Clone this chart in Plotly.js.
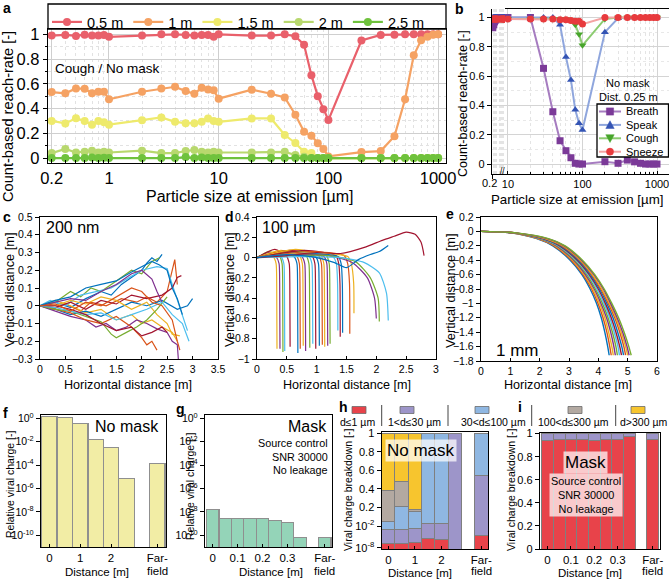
<!DOCTYPE html>
<html><head><meta charset="utf-8">
<script src="https://cdn.plot.ly/plotly-3.0.1.min.js"></script>
<style>html,body{margin:0;padding:0;background:#fff;}#chart{width:669px;height:582px;}</style>
</head><body><div id="chart"></div>
<script>
// ---------------- DATA ----------------
// panel a / b: particle sizes (µm)
const sizes=[0.3,0.4,0.5,0.6,0.7,0.8,0.9,1,2,3,4,5,6,7,8,9,10,20,30,40,50,60,70,80,90,100,200,300,400,500,600,700,800,900,1000];
const reach05=[0.99,0.995,0.987,0.997,0.99,0.99,0.995,0.98, 0.99,1.0,1.0,0.995,0.99,0.995,0.995,0.98,1.0, 0.99,0.99,1.0,0.985,0.915,0.67,0.5,0.395,0.307, 0.95,0.995,0.997,1.0,1.0,1.0,1.0,1.0,1.0];
const reach1=[0.533,0.523,0.563,0.56,0.523,0.536,0.536,0.475, 0.536,0.563,0.576,0.541,0.52,0.568,0.555,0.547,0.48, 0.552,0.52,0.49,0.35,0.213,0.18,0.12,0.074,0.013, 0.048,0.056,0.176,0.475,0.83,0.952,0.98,0.997,1.0];
const reach15=[0.30,0.28,0.322,0.30,0.27,0.30,0.29,0.27, 0.306,0.328,0.293,0.282,0.282,0.293,0.32,0.30,0.293, 0.32,0.32,0.186,0.122,0.05,0.04,0,0,0, 0,0,0,0,0,0,0,0,0];
const reach2=[0.04,0.073,0.045,0.05,0.06,0.045,0.05,0.045, 0.06,0.04,0.04,0.057,0.065,0.05,0.045,0.05,0.045, 0.045,0.045,0.05,0.025,0.01,0,0,0,0, 0,0,0,0,0,0,0,0,0];
const reach25=[0,0,0,0,0.005,0,0.003,0, 0,0,0,0.008,0,0.005,0,0,0, 0,0,0,0,0,0,0,0,0, 0,0,0,0,0,0,0,0,0];
const distLabels=['0.5 m','1 m','1.5 m','2 m','2.5 m'];
// panel b (distance 0.25 m)
const breath=[0.93,0.95,0.97,0.98,0.99,0.99,1,1, 1,1,1,1,1,1,1,1,1, 1,0.653,0.357,0.159,0.091,0.043,0.005,0,0, 0.016,0.005,0.027,0.015,0.005,0,0,0,0];
const speak=[1,1,1,1,1,1,1,1, 1,1,1,1,1,1,1,1,1, 1,1,1,0.95,0.73,0.573,0.37,0.278,0.232, 0.9,0.995,1,1,1,1,1,1,1];
const cough=[0.99,0.99,0.99,0.99,0.99,0.99,0.99,0.99, 0.99,0.99,0.99,0.99,0.99,0.99,0.99,0.99,0.99, 0.99,0.99,0.99,0.99,0.99,0.983,0.95,0.885,0.81, 0.99,1,1,1,1,1,1,1,1];
const sneeze=[0.99,0.99,0.99,0.99,0.99,0.99,0.99,0.99, 0.99,0.99,0.99,0.99,0.99,0.99,0.99,0.99,0.99, 0.99,0.99,0.99,0.985,0.985,0.98,0.975,0.975,0.955, 1,1,1,1,1,1,1,1,1];
const activityLabels=['Breath','Speak','Cough','Sneeze'];
// panel c: 200 nm trajectories (horizontal, vertical in m)
const cTrajX=[
 [0,0.3,0.6,0.9,1.2,1.4,1.6,1.8,2.0,2.1,2.2,2.3,2.4],
 [0,0.25,0.5,0.8,1.0,1.3,1.6,1.9,2.1,2.3,2.5,2.6,2.65,2.7],
 [0,0.3,0.6,0.9,1.2,1.5,1.8,2.0,2.2,2.4,2.6,2.7],
 [0,0.3,0.6,0.9,1.1,1.3,1.5,1.7,1.9,2.1,2.3,2.5,2.6,2.7,2.72],
 [0,0.3,0.6,0.8,1.0,1.2,1.5,1.8,2.0,2.2,2.35],
 [0,0.2,0.5,0.8,1.1,1.4,1.7,2.0,2.3,2.5,2.6,2.8,2.9],
 [0,0.3,0.6,0.9,1.2,1.5,1.8,2.1,2.4,2.6,2.7,2.78],
 [0,0.3,0.6,0.9,1.2,1.5,1.8,2.1,2.4,2.7,2.9,3.0],
 [0,0.3,0.6,0.9,1.2,1.5,1.8,2.0,2.1,2.2,2.3],
 [0,0.3,0.6,0.9,1.2,1.5,1.8,2.1,2.3,2.5,2.6,2.75],
 [0,0.3,0.6,0.9,1.2,1.5,1.8,2.0,2.2,2.3,2.4],
 [0,0.3,0.6,0.9,1.2,1.4,1.5,1.7,1.9,2.1,2.3,2.5],
 [0,0.3,0.6,0.9,1.2,1.5,1.8,2.1,2.4,2.6,2.8,2.93],
 [0,0.3,0.6,0.9,1.2,1.5,1.8,2.0,2.2,2.4,2.5],
 [0,0.3,0.6,0.9,1.2,1.5,1.8,2.0,2.2,2.35,2.5,2.6,2.7,2.8],
 [0,0.3,0.6,0.9,1.2,1.5,1.8,2.0,2.2,2.4,2.6,2.7,2.75]];
const cTrajY=[
 [0,0.02,-0.01,0.04,0.08,0.06,0.12,0.16,0.2,0.24,0.27,0.25,0.29],
 [0,-0.02,0.01,-0.03,0.02,0,0.04,0.02,0.05,0.02,0.08,0.2,0.26,0.12],
 [0,0.03,0,-0.04,-0.02,-0.08,-0.05,-0.1,-0.08,-0.12,-0.15,-0.2],
 [0,-0.03,-0.06,-0.08,-0.12,-0.1,-0.14,-0.12,-0.08,-0.1,-0.13,-0.15,-0.2,-0.22,-0.3],
 [0,0.02,0.08,0.05,0.1,0.08,0.14,0.2,0.18,0.25,0.27],
 [0,0.03,0,0.06,0.08,0.1,0.15,0.2,0.22,0.21,0.12,-0.05,-0.14],
 [0,-0.01,0.02,-0.02,0.03,0.01,0.06,0.04,0.06,0.1,0.16,0.17],
 [0,-0.02,-0.05,-0.03,-0.06,-0.02,0.02,0,0.03,-0.02,0,0.04],
 [0,-0.02,-0.04,-0.08,-0.1,-0.06,-0.12,-0.18,-0.22,-0.2,-0.25],
 [0,0,0.03,0.01,0.05,0.03,-0.02,0.02,-0.05,-0.1,-0.16,-0.17],
 [0,0.02,0.04,0.03,0.08,0.12,0.18,0.2,0.15,0.08,0.02],
 [0,-0.02,-0.03,-0.06,-0.09,-0.16,-0.18,-0.15,-0.12,-0.08,-0.02,0.05],
 [0,-0.01,-0.03,-0.05,-0.04,-0.08,-0.05,-0.02,0.02,-0.05,-0.1,-0.2],
 [0,0,-0.02,-0.05,-0.1,-0.14,-0.12,-0.17,-0.15,-0.12,-0.15],
 [0,0.03,0.05,0.1,0.12,0.14,0.19,0.22,0.25,0.23,0.2,0.1,0.04,-0.05],
 [0,0.01,-0.03,0.02,0,0.05,0.1,0.08,0.02,0,-0.08,-0.2,-0.25]];
// panel d: 100 µm trajectories
const dTrajX=[
 [0,0.15,0.27,0.32,0.33,0.335],
 [0,0.2,0.32,0.37,0.38,0.385],
 [0,0.2,0.37,0.42,0.43,0.435],
 [0,0.25,0.4,0.45,0.46,0.465],
 [0,0.3,0.49,0.54,0.55,0.555],
 [0,0.35,0.62,0.67,0.68,0.685],
 [0,0.4,0.66,0.71,0.72,0.725],
 [0,0.4,0.71,0.76,0.77,0.775],
 [0,0.45,0.75,0.8,0.81,0.815],
 [0,0.5,0.82,0.87,0.88,0.885],
 [0,0.5,0.87,0.92,0.93,0.935],
 [0,0.55,0.92,0.97,0.98,0.985],
 [0,0.6,0.98,1.03,1.04,1.045],
 [0,0.6,1.03,1.08,1.09,1.095],
 [0,0.65,1.07,1.12,1.13,1.135],
 [0,0.7,1.12,1.17,1.18,1.185],
 [0,0.7,1.16,1.21,1.22,1.225],
 [0,0.8,1.27,1.33,1.35,1.355],
 [0,0.8,1.32,1.37,1.39,1.395],
 [0,0.9,1.36,1.41,1.43,1.435],
 [0,0.9,1.46,1.52,1.55,1.555],
 [0,1.0,1.52,1.58,1.62,1.625],
 [0,0.6,1.2,1.6,1.85,1.97,2.0],
 [0,0.6,1.2,1.65,1.9,2.03,2.05],
 [0,0.7,1.4,1.8,2.05,2.17,2.2],
 [0,0.5,1.0,1.4,1.8,2.1,2.3,2.5,2.65,2.75,2.8],
 [0,0.5,1.0,1.3,1.5,1.7,1.9,2.05,2.2]];
const dTrajY=[
 [0,0.03,0.01,-0.06,-0.25,-0.9],
 [0,0.05,0.01,-0.06,-0.25,-0.9],
 [0,0.06,0.02,-0.06,-0.25,-0.93],
 [0,0.04,0.01,-0.06,-0.25,-0.92],
 [0,0.08,0.02,-0.06,-0.25,-0.88],
 [0,0.05,0.01,-0.06,-0.25,-0.94],
 [0,0.06,0.02,-0.06,-0.25,-0.9],
 [0,0.07,0.02,-0.06,-0.25,-0.87],
 [0,0.05,0.01,-0.06,-0.25,-0.92],
 [0,0.06,0.02,-0.06,-0.25,-0.89],
 [0,0.04,0.01,-0.06,-0.25,-0.85],
 [0,0.07,0.02,-0.06,-0.25,-0.9],
 [0,0.05,0.01,-0.06,-0.25,-0.87],
 [0,0.06,0.02,-0.06,-0.25,-0.86],
 [0,0.08,0.02,-0.06,-0.25,-0.88],
 [0,0.05,0.01,-0.06,-0.25,-0.87],
 [0,0.06,0.02,-0.06,-0.25,-0.85],
 [0,0.05,0.01,-0.06,-0.25,-0.72],
 [0,0.07,0.02,-0.06,-0.25,-0.78],
 [0,0.04,0.01,-0.06,-0.25,-0.74],
 [0,0.06,0.02,-0.06,-0.25,-0.75],
 [0,0.05,0.01,-0.06,-0.25,-0.55],
 [0,0.03,0.02,-0.05,-0.2,-0.4,-0.6],
 [0,0.02,0.02,-0.04,-0.2,-0.4,-0.63],
 [0,0.01,0.0,-0.05,-0.15,-0.35,-0.62],
 [0,0.02,0.05,0.04,0.1,0.17,0.21,0.25,0.23,0.15,0.02],
 [0,0.03,0.0,-0.05,-0.1,-0.02,0.03,0.06,0.12]];
// panel e: 1 mm trajectories (x read at fixed vertical levels)
const eLevels=[0,-0.02,-0.1,-0.2,-0.4,-0.6,-0.8,-1.0,-1.2,-1.4,-1.6,-1.72];
const eTrajX=[
 [0,1.0,1.9,2.45,3.04,3.44,3.72,3.94,4.10,4.22,4.32,4.37],
 [0,1.02,1.93,2.49,3.08,3.48,3.77,3.99,4.16,4.29,4.39,4.44],
 [0,1.04,1.96,2.53,3.12,3.52,3.81,4.04,4.22,4.35,4.46,4.51],
 [0,1.06,2.0,2.57,3.16,3.56,3.86,4.09,4.28,4.42,4.53,4.58],
 [0,1.08,2.03,2.61,3.2,3.61,3.9,4.14,4.33,4.48,4.6,4.65],
 [0,1.1,2.06,2.64,3.24,3.65,3.95,4.19,4.39,4.54,4.67,4.72],
 [0,1.12,2.1,2.68,3.28,3.69,4.0,4.24,4.44,4.6,4.73,4.79],
 [0,1.13,2.13,2.72,3.32,3.73,4.04,4.29,4.5,4.66,4.8,4.86],
 [0,1.15,2.17,2.76,3.36,3.77,4.08,4.34,4.56,4.73,4.87,4.93],
 [0,1.17,2.2,2.8,3.39,3.8,4.12,4.38,4.6,4.78,4.93,5.0],
 [0,1.19,2.26,2.84,3.43,3.85,4.17,4.42,4.64,4.83,4.98,5.05],
 [0,1.2,2.3,2.87,3.46,3.88,4.2,4.46,4.69,4.88,5.04,5.12]];
const trajColors=['#0072BD','#D95319','#EDB120','#7E2F8E','#77AC30','#4DBEEE','#A2142F'];
// panel f / g: relative viral charge
const fDist=[0,0.5,1,1.5,2,2.5,3.5];
const fCharge=[1.4,1.1,0.37,0.016,0.003,6.8e-6,1.3e-4];
const gDist=[0,0.05,0.1,0.15,0.2,0.25,0.3,0.35,0.45];
const gCharge=[1.6e-8,2.7e-9,2.7e-9,2.7e-9,2.7e-9,1.95e-9,1.3e-9,6.8e-11,6.8e-11];
// panel h (no mask, broken axis: display units) / i (mask)
const hDist=[0,0.5,1,1.5,2,2.5,3.5];
const hD1=[0.061,0.061,0.068,0.115,0.104,0,0.151];
const hD30=[0.151,0.151,0.155,0.162,0.173,1.248,0.647];
const hD100=[0.082,0.244,0.179,0.971,0.971,0,0.45];
const hD300=[0.342,0.27,0.026,0,0,0,0];
const hDbig=[0.612,0.522,0.82,0,0,0,0];
const iDist=[0,0.05,0.1,0.15,0.2,0.25,0.3,0.35,0.45];
const iD1=[0.942,0.948,0.948,0.948,0.942,0.948,0.95,0.977,0.948];
const iD30=[0.058,0.052,0.052,0.052,0.058,0.052,0.05,0.023,0.052];
const classLabels=['d≤1 µm','1<d≤30 µm','30<d≤100 µm','100<d≤300 µm','d>300 µm'];
const classColors=['#e8434a','#9d95c9','#8fb7e2','#b3a9a1','#f7c52e'];

// ---------------- HELPERS ----------------
const W=669,H=582;
const X=p=>p/W, Y=p=>1-p/H;
const dom=(a,b)=>[X(a),X(b)];
const domY=(top,bot)=>[Y(bot),Y(top)];
const FONT='Liberation Sans, Arial, sans-serif';
const traces=[];
const ann=[];
const shapes=[];
function txt(t,x,y,size,o={}){ann.push(Object.assign({text:t,x:X(x),y:Y(y),xref:'paper',yref:'paper',showarrow:false,font:{size:size,family:FONT,color:'#000'},xanchor:'center',yanchor:'middle'},o));}
const frame={showline:true,linecolor:'#000',linewidth:1.2,mirror:true,zeroline:false,showgrid:false,ticks:'outside',ticklen:4,tickcolor:'#000'};

// ---------------- PANEL A ----------------
const aCols=['#e9606b','#f5a263','#eeea6c','#b8d86e','#6fc23d'];
[reach05,reach1,reach15,reach2,reach25].forEach((s,k)=>{
 traces.push({x:sizes,y:s,xaxis:'x',yaxis:'y',mode:'lines+markers',name:distLabels[k],
  line:{color:aCols[k],width:2.2},marker:{color:aCols[k],size:8},legend:'legend'});
});
// ---------------- PANEL B ----------------
const bLine=['#a67cc0','#8fa6dd','#8ccb70','#f4a3a3'];
const bMark=['#7b3a98','#3454b4','#47a52b','#e83a3d'];
const bSym=['square','triangle-up','triangle-down','circle'];
[breath,speak,cough,sneeze].forEach((s,k)=>{
 const lx=[],ly=[],mx=[],my=[];
 sizes.forEach((v,i)=>{ if(v<=10){lx.push(v);ly.push(s[i]);} if(v>=10){mx.push(v);my.push(s[i]);} });
 traces.push({x:lx,y:ly,xaxis:'x2',yaxis:'y2',mode:'lines+markers',showlegend:false,
  line:{color:bLine[k],width:2},marker:{color:bMark[k],size:7,symbol:bSym[k]}});
 traces.push({x:mx,y:my,xaxis:'x3',yaxis:'y2',mode:'lines+markers',name:activityLabels[k],showlegend:false,
  line:{color:bLine[k],width:2},marker:{color:bMark[k],size:7,symbol:bSym[k]}});
});
// ---------------- PANEL C/D/E ----------------
cTrajX.forEach((xs,k)=>traces.push({x:xs,y:cTrajY[k],xaxis:'x4',yaxis:'y4',mode:'lines',showlegend:false,
 line:{color:trajColors[k%7],width:1.2}}));
dTrajX.forEach((xs,k)=>traces.push({x:xs,y:dTrajY[k],xaxis:'x5',yaxis:'y5',mode:'lines',showlegend:false,
 line:{color:trajColors[(k+2)%7],width:1.2,shape:'spline',smoothing:0.6}}));
eTrajX.forEach((xs,k)=>traces.push({x:xs,y:eLevels,xaxis:'x6',yaxis:'y6',mode:'lines',showlegend:false,
 line:{color:trajColors[k%7],width:1.4,shape:'spline',smoothing:0.8}}));
// ---------------- PANEL F/G ----------------
traces.push({type:'bar',x:fDist,y:fCharge,xaxis:'x7',yaxis:'y7',width:0.5,showlegend:false,
 marker:{color:'#f2eda5',line:{color:'#8f8f8f',width:1.2}}});
traces.push({type:'bar',x:gDist,y:gCharge,xaxis:'x8',yaxis:'y8',width:0.05,showlegend:false,
 marker:{color:'#94d4b8',line:{color:'#8f8f8f',width:1.2}}});
// ---------------- PANEL H/I ----------------
[hD1,hD30,hD100,hD300,hDbig].forEach((s,k)=>traces.push({type:'bar',x:hDist,y:s,xaxis:'x9',yaxis:'y9',width:0.5,
 showlegend:false,name:classLabels[k],marker:{color:classColors[k],line:{color:'#7f7f7f',width:1}}}));
[iD1,iD30].forEach((s,k)=>traces.push({type:'bar',x:iDist,y:s,xaxis:'x10',yaxis:'y10',width:0.05,
 showlegend:false,name:classLabels[k],marker:{color:classColors[k],line:{color:'#7f7f7f',width:1}}}));

// ---------------- AXES ----------------
function logMinor(d0,d1){const v=[];for(let d=d0;d<=d1;d++)for(let m=2;m<=9;m++)v.push(m*Math.pow(10,d));return v;}
const L={width:W,height:H,margin:{l:0,r:0,t:0,b:0,autoexpand:false},paper_bgcolor:'#fff',plot_bgcolor:'#fff',
 font:{family:FONT,color:'#000'},barmode:'stack',showlegend:true,
 legend:{orientation:'h',x:X(47),y:Y(6),xanchor:'left',yanchor:'top',traceorder:'normal',font:{size:14.5,family:FONT},bgcolor:'rgba(0,0,0,0)',itemwidth:30,tracegroupgap:0}};
const xin={ticks:'inside',ticklen:3};
// a
L.xaxis=Object.assign({},frame,{type:'log',domain:dom(48,446),anchor:'y',range:[-0.556,3.072],tickvals:[0.3,1,10,100,1000],ticktext:['0.2','1','10','100','1000'],
 tickfont:{size:16.5},showgrid:true,gridcolor:'#cfcfcf',ticks:'inside',minor:{tickvals:logMinor(-1,2),ticks:'inside',ticklen:3,showgrid:true,gridcolor:'#e2e2e2',griddash:'dot'}});
L.yaxis=Object.assign({},frame,{domain:domY(29,163),anchor:'x',range:[-0.04,1.043],tickvals:[0,0.2,0.4,0.6,0.8,1],ticktext:['0','0.2','0.4','0.6','0.8','1'],
 tickfont:{size:16.5},showgrid:true,gridcolor:'#cfcfcf',minor:{dtick:0.1,showgrid:true,gridcolor:'#e2e2e2',griddash:'dot',ticks:'outside',ticklen:2}});
// b
L.xaxis2=Object.assign({},frame,{type:'log',domain:dom(492,505),anchor:'y2',range:[-0.62,1.0],tickvals:[0.3],showticklabels:false,
 mirror:false,showgrid:false,minor:{tickvals:logMinor(-1,0),showgrid:true,gridcolor:'#e4e4e4',griddash:'dot',ticks:''}});
L.xaxis3=Object.assign({},frame,xin,{type:'log',domain:dom(505,669),anchor:'y2',range:[0.96,3.161],tickvals:[10,100,1000],ticktext:['10','100','1000'],tickfont:{size:11},
 ticklabeloverflow:'allow',showgrid:true,gridcolor:'#d4d4d4',minor:{tickvals:logMinor(1,2),ticks:'inside',ticklen:2,showgrid:true,gridcolor:'#e4e4e4',griddash:'dot'}});
L.yaxis2=Object.assign({},frame,{domain:domY(9,174),anchor:'x2',range:[-0.068,1.058],tickvals:[0,0.2,0.4,0.6,0.8,1],ticktext:['0','0.2','0.4','0.6','0.8','1'],tickfont:{size:11},
 mirror:false,showgrid:true,gridcolor:'#d4d4d4',minor:{dtick:0.1,showgrid:true,gridcolor:'#e8e8e8',griddash:'dot'}});
// c d e
L.xaxis4=Object.assign({},frame,xin,{domain:dom(40,218),anchor:'y4',range:[0,3.5],dtick:0.5,tickfont:{size:10.5},ticklabeloverflow:'allow'});
L.yaxis4=Object.assign({},frame,{domain:domY(217,359),anchor:'x4',range:[-0.3,0.5],dtick:0.1,tickfont:{size:10.5}});
L.xaxis5=Object.assign({},frame,xin,{domain:dom(257,436),anchor:'y5',range:[0,3],dtick:0.5,tickfont:{size:10.5},ticklabeloverflow:'allow'});
L.yaxis5=Object.assign({},frame,{domain:domY(217,359),anchor:'x5',range:[-1,0.4],dtick:0.2,tickfont:{size:10.5}});
L.xaxis6=Object.assign({},frame,xin,{domain:dom(481,657),anchor:'y6',range:[0,6],dtick:1,tickfont:{size:10.5},ticklabeloverflow:'allow'});
L.yaxis6=Object.assign({},frame,{domain:domY(217,361),anchor:'x6',range:[-1.8,0.2],dtick:0.2,tickfont:{size:10.5}});
// f g
const pw=['10<sup>0</sup>','10<sup>-2</sup>','10<sup>-4</sup>','10<sup>-6</sup>','10<sup>-8</sup>','10<sup>-10</sup>'];
L.xaxis7=Object.assign({},frame,xin,{domain:dom(41,166),anchor:'y7',range:[-0.27,3.78],tickvals:[0,1,2,3.5],ticktext:['0','1','2','Far-'],tickfont:{size:11.5}});
L.yaxis7=Object.assign({},frame,{type:'log',domain:domY(415,547),anchor:'x7',range:[-11,0.28],tickvals:[1,1e-2,1e-4,1e-6,1e-8,1e-10],ticktext:pw,tickfont:{size:10.5}});
L.xaxis8=Object.assign({},frame,xin,{domain:dom(205,332),anchor:'y8',range:[-0.031,0.479],tickvals:[0,0.1,0.2,0.3,0.45],ticktext:['0','0.1','0.2','0.3','Far-'],tickfont:{size:11.5}});
L.yaxis8=Object.assign({},frame,{type:'log',domain:domY(415,547),anchor:'x8',range:[-11,0.28],tickvals:[1,1e-2,1e-4,1e-6,1e-8,1e-10],ticktext:pw,tickfont:{size:10.5}});
// h i
L.xaxis9=Object.assign({},frame,xin,{domain:dom(381.7,488),anchor:'y9',range:[-0.25,3.75],tickvals:[0,1,2,3.5],ticktext:['0','1','2','Far-'],tickfont:{size:11.5}});
L.yaxis9=Object.assign({},frame,{domain:domY(432.2,549),anchor:'x9',range:[0,1.26],tickvals:[0.014,0.248,0.448,0.648,0.848,1.048,1.248],
 ticktext:['10<sup>-8</sup>','10<sup>-2</sup>','0.2','0.4','0.6','0.8','1'],tickfont:{size:11}});
L.xaxis10=Object.assign({},frame,xin,{domain:dom(540,660),anchor:'y10',range:[-0.032,0.481],tickvals:[0,0.1,0.2,0.3,0.45],ticktext:['0','0.1','0.2','0.3','Far-'],tickfont:{size:11.5}});
L.yaxis10=Object.assign({},frame,{domain:domY(433,549),anchor:'x10',range:[0,1.005],tickvals:[0,0.2,0.4,0.6,0.8,1],ticktext:['0','0.2','0.4','0.6','0.8','1'],tickfont:{size:11}});

// ---------------- TEXT ----------------
const B=s=>'<b>'+s+'</b>';
txt(B('a'),7,8,14); txt(B('b'),460,9,14); txt(B('c'),7,217,14); txt(B('d'),229,217,14); txt(B('e'),450,214,14);
txt(B('f'),5,413,14); txt(B('g'),180,409,14); txt(B('h'),343,407,14); txt(B('i'),520,407,14);
txt('Count-based reach-rate [-]',8,117,14.6,{textangle:-90});
txt('Particle size at emission [µm]',250,196,16);
txt('Cough / No mask',53,68,13.5,{xanchor:'left'});
txt('Count-based reach-rate [-]',463,104,12.5,{textangle:-90});
txt('Particle size at emission [µm]',577,199,13.3);
txt('No mask',628,83,11); txt('Dist. 0.25 m',628,97,11);
txt('0.2',489,183,11); txt('//',502,171,8.5);
txt('Vertical distance [m]',9,290,12.8,{textangle:-90});
txt('Vertical distance [m]',229,290,12.8,{textangle:-90});
txt('Vertical distance [m]',450,291,12.8,{textangle:-90});
txt('Horizontal distance [m]',128,385,12.6); txt('Horizontal distance [m]',347,385,12.6); txt('Horizontal distance [m]',568,385,12.6);
txt('200 nm',44,228,16,{xanchor:'left'}); txt('100 µm',260,228,16,{xanchor:'left'}); txt('1 mm',494,350,17,{xanchor:'left'});
txt('Relative viral charge [-]',10,485,10.5,{textangle:-90});
txt('Relative viral charge [-]',190,487,10.5,{textangle:-90});
txt('Distance [m]',97,572,11.5); txt('Distance [m]',271,572,11.5);
txt('field',157.4,571,11.5); txt('field',324.8,571,11.5); txt('field',481.4,571,11.5); txt('field',652.8,571,11.5);
txt('No mask',161,426,16,{xanchor:'right'});
txt('Mask',329,426,16,{xanchor:'right'});
txt('Source control',330,443.3,10.8,{xanchor:'right'}); txt('SNR 30000',330,456.7,10.8,{xanchor:'right'}); txt('No leakage',330,470,10.8,{xanchor:'right'});
txt('Viral charge breakdown [-]',348,490,10.5,{textangle:-90});
txt('Viral charge breakdown [-]',511,490,10.5,{textangle:-90});
txt('Distance [m]',420,573,11.5); txt('Distance [m]',590,573,11.5);
txt('No mask',421,450,17,{bgcolor:'rgba(255,255,255,0.72)'});
txt('Mask',585,463,17,{bgcolor:'rgba(255,255,255,0.72)'});
txt('Source control<br>SNR 30000<br>No leakage',586,495,10.9,{bgcolor:'rgba(255,255,255,0.72)'});
// h/i class legend
const sqX=[359,407,482,575,638], lbX=[358,414.7,493,573,643];
classLabels.forEach((t,k)=>{
 shapes.push({type:'rect',xref:'paper',yref:'paper',x0:X(sqX[k]-7),x1:X(sqX[k]+7),y0:Y(413.5),y1:Y(406.5),fillcolor:classColors[k],line:{color:'#6b6b6b',width:0.8}});
 txt(t,lbX[k],421.7,10.5);
});
[381.7,448,531.7,615.7].forEach(px=>shapes.push({type:'line',xref:'paper',yref:'paper',x0:X(px),x1:X(px),y0:Y(405),y1:Y(426),line:{color:'#444',width:1}}));
// panel a legend frame
shapes.push({type:'rect',xref:'paper',yref:'paper',x0:X(48),x1:X(446),y0:Y(29),y1:Y(4),line:{color:'#000',width:1.3}});
// panel b legend (box, line samples, marker samples, labels)
shapes.push({type:'rect',xref:'paper',yref:'paper',x0:X(597),x1:X(668.5),y0:Y(157),y1:Y(104),fillcolor:'#fff',line:{color:'#000',width:1.3}});
activityLabels.forEach((t,k)=>{
 const cy=111.5+13.4*k, cx=610, r=3.6;
 shapes.push({type:'line',xref:'paper',yref:'paper',x0:X(599),x1:X(621),y0:Y(cy),y1:Y(cy),line:{color:bLine[k],width:2}});
 const st={xref:'paper',yref:'paper',fillcolor:bMark[k],line:{color:bMark[k],width:0.5}};
 if(k===0) shapes.push(Object.assign({type:'rect',x0:X(cx-r),x1:X(cx+r),y0:Y(cy+r),y1:Y(cy-r)},st));
 if(k===1) shapes.push(Object.assign({type:'path',path:`M${X(cx-r-0.6)},${Y(cy+r)} L${X(cx+r+0.6)},${Y(cy+r)} L${X(cx)},${Y(cy-r-0.6)} Z`},st));
 if(k===2) shapes.push(Object.assign({type:'path',path:`M${X(cx-r-0.6)},${Y(cy-r)} L${X(cx+r+0.6)},${Y(cy-r)} L${X(cx)},${Y(cy+r+0.6)} Z`},st));
 if(k===3) shapes.push(Object.assign({type:'circle',x0:X(cx-r),x1:X(cx+r),y0:Y(cy+r),y1:Y(cy-r)},st));
 txt(t,624,cy,11,{xanchor:'left'});
});
L.annotations=ann; L.shapes=shapes;
Plotly.newPlot('chart',traces,L,{displayModeBar:false,staticPlot:true});
</script></body></html>
